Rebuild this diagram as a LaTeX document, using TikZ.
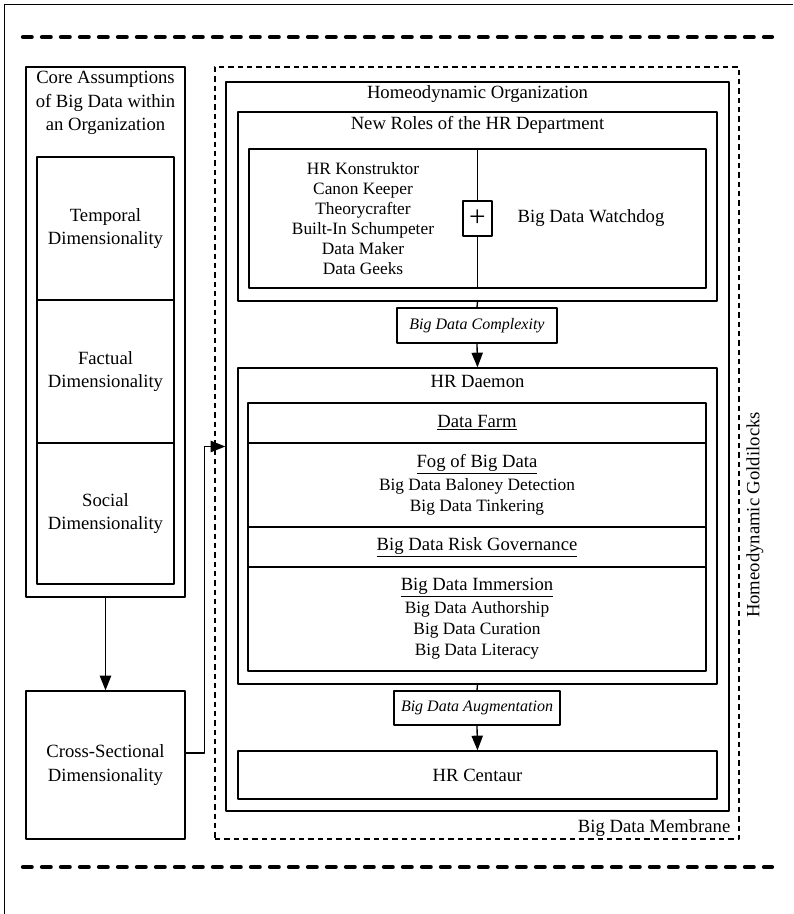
\documentclass[tikz,border=0pt]{standalone}
\usepackage{fontspec}
\setmainfont{Liberation Serif}
\usetikzlibrary{arrows.meta,fit}

\begin{document}
\begin{tikzpicture}[x=0.75pt, y=-0.75pt, line width=1pt, line join=round,
  >={Triangle[length=11pt,width=8.5pt]}, font=\fontsize{14}{17.5}\selectfont,
  box/.style={draw, inner sep=0pt},
  txt/.style={inner sep=0pt, align=center},
  tag/.style={inner sep=0pt, align=center, font=\fontsize{12}{14}\itshape},
  small/.style={inner sep=0pt, align=center, font=\fontsize{13}{15.75}\selectfont},
  sep/.style={line width=3.2pt, line cap=round, dash pattern=on 6.5pt off 7.75pt},
  membrane/.style={line width=0.8pt, dash pattern=on 4pt off 3pt}]
 \def\hd#1{{\fontsize{14}{17}\selectfont\underline{#1}}}
 \useasboundingbox (0,0) rectangle (793,914);
 % frame and separators
 \draw (4.5,914) -- (4.5,4.5) -- (793,4.5);
 \draw[sep] (23,37) -- (772,37);
 \draw[sep] (23,867) -- (772,867);
 % core assumptions
 \node[box, fit={(26,67) (185,597)}] (core) {};
 \node[txt] (coret) at (105.5,103) {Core Assumptions\\of Big Data within\\an Organization};
 \foreach \nm/\ya/\yb/\t in {temp/157/300/Temporal, fact/300/443/Factual, soc/443/584/Social}{
 \node[box, fit={(37,\ya) (174,\yb)}] (\nm) {};
 \node[txt] (\nm t) at (\nm) {\t\\Dimensionality};
 }
 \node[box, fit={(26,691) (185,839)}] (cross) {};
 \node[txt] (crosst) at (cross) {Cross-Sectional\\Dimensionality};
 \draw[->] (core.south) -- (cross.north);
 % membrane
 \node[box, membrane, fit={(215,67) (739,839)}] (memb) {};
 \node[txt, anchor=east] (membt) at (731,828) {Big Data Membrane};
 \node[txt, rotate=90] (gold) at (755,515) {Homeodynamic Goldilocks};
 % organization
 \node[box, fit={(226,82) (729,811)}] (org) {};
 \node[txt] (orgt) at (477.5,94) {Homeodynamic Organization};
 \draw[->] ([yshift=9pt]cross.east) -- ++(19,0) |- (org.west);
 \node[box, fit={(238,112) (717,301)}] (roles) {};
 \node[txt] (rolest) at (477.5,125) {New Roles of the HR Department};
 \node[box, fit={(249,149) (706,288)}] (rolesin) {};
 \node[box, fit={(463,201) (492,236)}] (plus) {};
 \node[txt, font=\fontsize{22}{22}\selectfont] (plust) at (plus) {+};
 \draw (rolesin.north -| plus.north) -- (plus.north) (plus.south) -- (rolesin.south -| plus.south);
 \node[small, font=\fontsize{13}{15}\selectfont] (list) at (363,219) {HR Konstruktor\\Canon Keeper\\Theorycrafter\\Built-In Schumpeter\\Data Maker\\Data Geeks};
 \node[txt] (watch) at (591,218) {Big Data Watchdog};
 \node[box, fit={(397,308) (557,343)}] (cplx) {};
 \node[tag] (cplxt) at (cplx) {Big Data Complexity};
 % hr daemon
 \node[box, fit={(238,368) (717,684)}] (daemon) {};
 \node[txt] (daemont) at (477.5,381) {HR Daemon};
 \node[box, fit={(248,403) (706,443)}] (farm) {};
 \node[txt] (farmt) at (farm) {\underline{Data Farm}};
 \node[box, fit={(248,443) (706,527)}] (fog) {};
 \node[small] (fogt) at (fog) {\hd{Fog of Big Data}\\[1.5pt]Big Data Baloney Detection\\Big Data Tinkering};
 \node[box, fit={(248,527) (706,567)}] (risk) {};
 \node[txt] (riskt) at (risk) {\underline{Big Data Risk Governance}};
 \node[box, fit={(248,567) (706,671)}] (imm) {};
 \node[small] (immt) at (imm) {\hd{Big Data Immersion}\\[1.5pt]Big Data Authorship\\Big Data Curation\\Big Data Literacy};
 \draw (roles.south) -- (cplx.north);
 \draw[->] (cplx.south) -- (daemon.north);
 % hr centaur
 \node[box, fit={(394,691) (560,725)}] (augm) {};
 \node[tag] (augmt) at (augm) {Big Data Augmentation};
 \node[box, fit={(238,751) (717,799)}] (cent) {};
 \node[txt] (centt) at (cent) {HR Centaur};
 \draw (daemon.south) -- (augm.north);
 \draw[->] (augm.south) -- (cent.north);
\end{tikzpicture}
\end{document}
